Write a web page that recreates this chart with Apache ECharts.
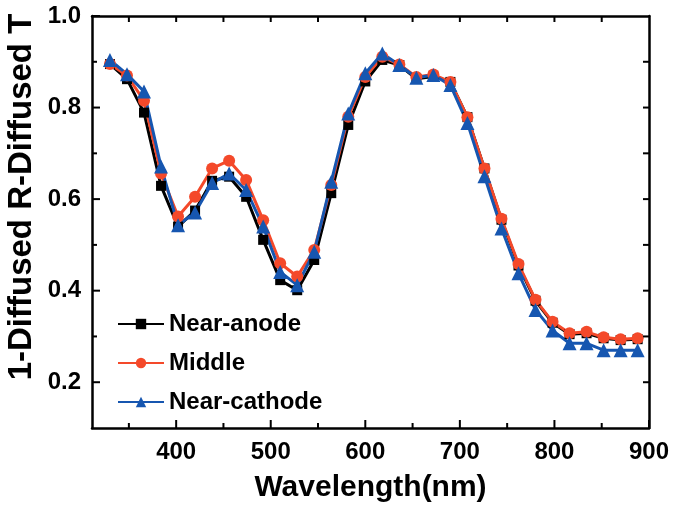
<!DOCTYPE html>
<html>
<head>
<meta charset="utf-8">
<script src="https://cdn.jsdelivr.net/npm/echarts@6/dist/echarts.min.js"></script>
<style>
html,body{margin:0;padding:0;background:#fff;}
#chart{width:677px;height:511px;}
</style>
</head>
<body>
<div id="chart"></div>
<script>
const wavelength = [330,348,366,384,402,420,438,456,474,492,510,528,546,564,582,600,618,636,654,672,690,708,726,744,762,780,798,816,834,852,870,888];
const nearAnode = [0.895,0.862,0.789,0.629,0.540,0.575,0.640,0.649,0.605,0.511,0.423,0.401,0.467,0.613,0.762,0.857,0.904,0.893,0.863,0.868,0.856,0.779,0.667,0.555,0.455,0.378,0.330,0.305,0.307,0.296,0.292,0.294];
const middle = [0.895,0.870,0.815,0.656,0.562,0.605,0.667,0.684,0.642,0.554,0.460,0.431,0.489,0.631,0.780,0.867,0.911,0.894,0.867,0.872,0.856,0.779,0.667,0.557,0.458,0.380,0.332,0.307,0.310,0.298,0.294,0.296];
const nearCathode = [0.904,0.873,0.835,0.671,0.543,0.571,0.635,0.656,0.620,0.540,0.441,0.412,0.485,0.638,0.787,0.875,0.918,0.893,0.865,0.871,0.849,0.766,0.650,0.536,0.438,0.358,0.313,0.285,0.285,0.270,0.270,0.270];
const seriesNames = ['Near-anode','Middle','Near-cathode'];
const xTickLabels = [400,500,600,700,800,900];
const xMinorTicks = [350,450,550,650,750,850];
const xTopTicks = [350,400,450,500,550,600,650,700,750,800,850];
const yTickLabels = [0.2,0.4,0.6,0.8,1.0];
const yMinorTicks = [0.3,0.5,0.7,0.9];
const yRightTicks = [0.2,0.3,0.4,0.5,0.6,0.7,0.8,0.9];
const xTitle = 'Wavelength(nm)';
const yTitle = '1-Diffused R-Diffused T';

const FONT = "'Liberation Sans', Arial, sans-serif";
const XMIN = 311, XMAX = 900, YMIN = 0.1, YMAX = 1.0;

function pairs(ys){ return wavelength.map((x,i)=>[x, ys[i]]); }

// Tick marks drawn through the axes' own scales (api.coord), pointing inward.
function tickSeries(values, side, len){
  const isX = (side === 'bottom' || side === 'top');
  return {
    type:'custom', coordinateSystem:'cartesian2d', silent:true, clip:false, z:4,
    data: values.map(v => [v]),
    renderItem: function(params, api){
      const v = api.value(0);
      let p, x2, y2;
      if (side === 'bottom') { p = api.coord([v, YMIN]); x2 = p[0]; y2 = p[1] - len; }
      else if (side === 'top') { p = api.coord([v, YMAX]); x2 = p[0]; y2 = p[1] + len; }
      else if (side === 'left') { p = api.coord([XMIN, v]); x2 = p[0] + len; y2 = p[1]; }
      else { p = api.coord([XMAX, v]); x2 = p[0] - len; y2 = p[1]; }
      return {type:'line', shape:{x1:p[0], y1:p[1], x2:x2, y2:y2},
        style:{stroke:'#000', lineWidth:2}};
    }
  };
}

const chart = echarts.init(document.getElementById('chart'));
chart.setOption({
  animation:false,
  grid:{left:92, right:28, top:16, bottom:83},
  xAxis:[
    {type:'value', min:XMIN, max:XMAX, position:'bottom', splitLine:{show:false},
     axisLine:{show:true, lineStyle:{color:'#000', width:2.5}},
     axisTick:{show:false},
     axisLabel:{customValues:xTickLabels, color:'#000', fontSize:24, fontWeight:'bold', fontFamily:FONT, margin:12},
     name:xTitle, nameLocation:'middle', nameGap:45,
     nameTextStyle:{color:'#000', fontSize:30, fontWeight:'bold', fontFamily:FONT}},
    {type:'value', min:XMIN, max:XMAX, position:'top', splitLine:{show:false},
     axisLine:{show:true, lineStyle:{color:'#000', width:2.5}},
     axisTick:{show:false}, axisLabel:{show:false}}
  ],
  yAxis:[
    {type:'value', min:YMIN, max:YMAX, position:'left', splitLine:{show:false},
     axisLine:{show:true, lineStyle:{color:'#000', width:2.5}},
     axisTick:{show:false},
     axisLabel:{customValues:yTickLabels, margin:11, color:'#000', fontSize:24, fontWeight:'bold', fontFamily:FONT,
       formatter:v=>Number(v).toFixed(1)}},
    {type:'value', min:YMIN, max:YMAX, position:'right', splitLine:{show:false},
     axisLine:{show:true, lineStyle:{color:'#000', width:2.5}},
     axisTick:{show:false}, axisLabel:{show:false}}
  ],
  legend:{
    orient:'vertical', left:112, top:307,
    itemWidth:46, itemHeight:13, itemGap:15,
    textStyle:{color:'#000', fontSize:24, fontWeight:'bold', fontFamily:FONT, lineHeight:24},
    data:seriesNames
  },
  graphic:[{
    type:'text', x:22, y:197, rotation:Math.PI/2,
    style:{text:yTitle, align:'center', verticalAlign:'middle', fill:'#000',
      font:"bold 33px 'Liberation Sans', Arial, sans-serif"}
  }],
  series:[
    {name:seriesNames[0], type:'line', data:pairs(nearAnode), symbol:'rect', symbolSize:10,
      lineStyle:{color:'#000', width:3}, itemStyle:{color:'#000'}},
    {name:seriesNames[1], type:'line', data:pairs(middle), symbol:'circle', symbolSize:12,
      lineStyle:{color:'#F4492A', width:3}, itemStyle:{color:'#F4492A'}},
    {name:seriesNames[2], type:'line', data:pairs(nearCathode), symbol:'triangle', symbolSize:14,
      lineStyle:{color:'#1656B0', width:3}, itemStyle:{color:'#1656B0'}},
    tickSeries(xTickLabels, 'bottom', 8),
    tickSeries(xMinorTicks, 'bottom', 5),
    tickSeries(xTopTicks, 'top', 6),
    tickSeries(yTickLabels, 'left', 8),
    tickSeries(yMinorTicks, 'left', 5),
    tickSeries(yRightTicks, 'right', 6)
  ]
});
</script>
</body>
</html>
